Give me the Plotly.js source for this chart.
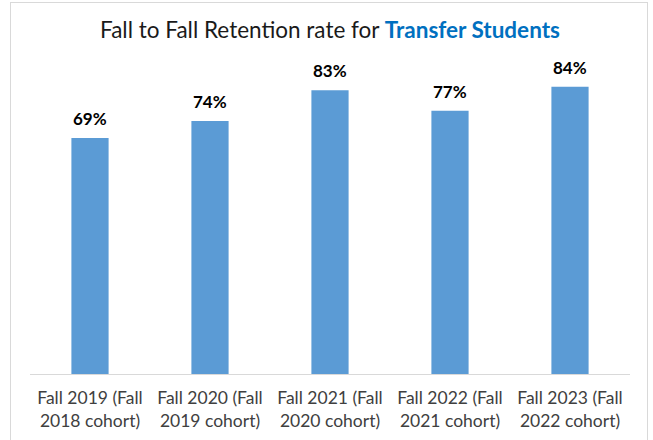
<!DOCTYPE html>
<html>
<head>
<meta charset="utf-8">
<script src="https://cdn.plot.ly/plotly-3.0.1.min.js"></script>
<style>
  html, body { margin: 0; padding: 0; background: #ffffff; }
  #wrap { position: relative; width: 653px; height: 440px; overflow: hidden; }
  #chart { position: absolute; left: 0; top: 0; width: 653px; height: 440px; }
  #frame { position: absolute; left: 10px; top: 2px; width: 636px; height: 460px; border: 1px solid #d9d9d9; pointer-events: none; }
</style>
</head>
<body>
<div id="wrap">
  <div id="chart"></div>
  <div id="frame"></div>
</div>
<script>
const categories = [
  "Fall 2019 (Fall<br>2018 cohort)",
  "Fall 2020 (Fall<br>2019 cohort)",
  "Fall 2021 (Fall<br>2020 cohort)",
  "Fall 2022 (Fall<br>2021 cohort)",
  "Fall 2023 (Fall<br>2022 cohort)"
];
const retention = [0.69, 0.74, 0.83, 0.77, 0.84];
const labels = ["69%", "74%", "83%", "77%", "84%"];

const trace = {
  type: "bar",
  x: categories,
  y: retention,
  marker: { color: "#5B9BD5" },
  hoverinfo: "skip"
};

const annotations = categories.map((c, i) => ({
  x: c, y: retention[i], xref: "x", yref: "y",
  text: "<b>" + labels[i] + "</b>",
  showarrow: false, yanchor: "bottom", yshift: 7,
  font: { family: "Lato, 'Open Sans', sans-serif", size: 17, color: "#000000" }
}));

const layout = {
  width: 653, height: 440,
  margin: { l: 30, r: 23, t: 32, b: 66 },
  paper_bgcolor: "#ffffff", plot_bgcolor: "#ffffff",
  bargap: 0.69,
  showlegend: false,
  title: {
    text: "Fall to Fall Retention rate for <b><span style='color:#0070C0'>Transfer Students</span></b>",
    font: { family: "Lato, 'Open Sans', sans-serif", size: 22.5, color: "#1a1a1a" },
    x: 0.5, xanchor: "center", xref: "paper",
    y: 1 - 30/440, yanchor: "middle", yref: "container"
  },
  xaxis: {
    type: "category",
    showline: true, linecolor: "#d9d9d9", linewidth: 1,
    ticks: "", showgrid: false, zeroline: false,
    ticklabelstandoff: 8,
    tickfont: { family: "Lato, 'Open Sans', sans-serif", size: 17.5, color: "#404040" }
  },
  yaxis: {
    range: [0, 1], visible: false, showgrid: false, zeroline: false, fixedrange: true
  },
  annotations: annotations
};

Plotly.newPlot("chart", [trace], layout, { displayModeBar: false, staticPlot: true });
</script>
</body>
</html>
